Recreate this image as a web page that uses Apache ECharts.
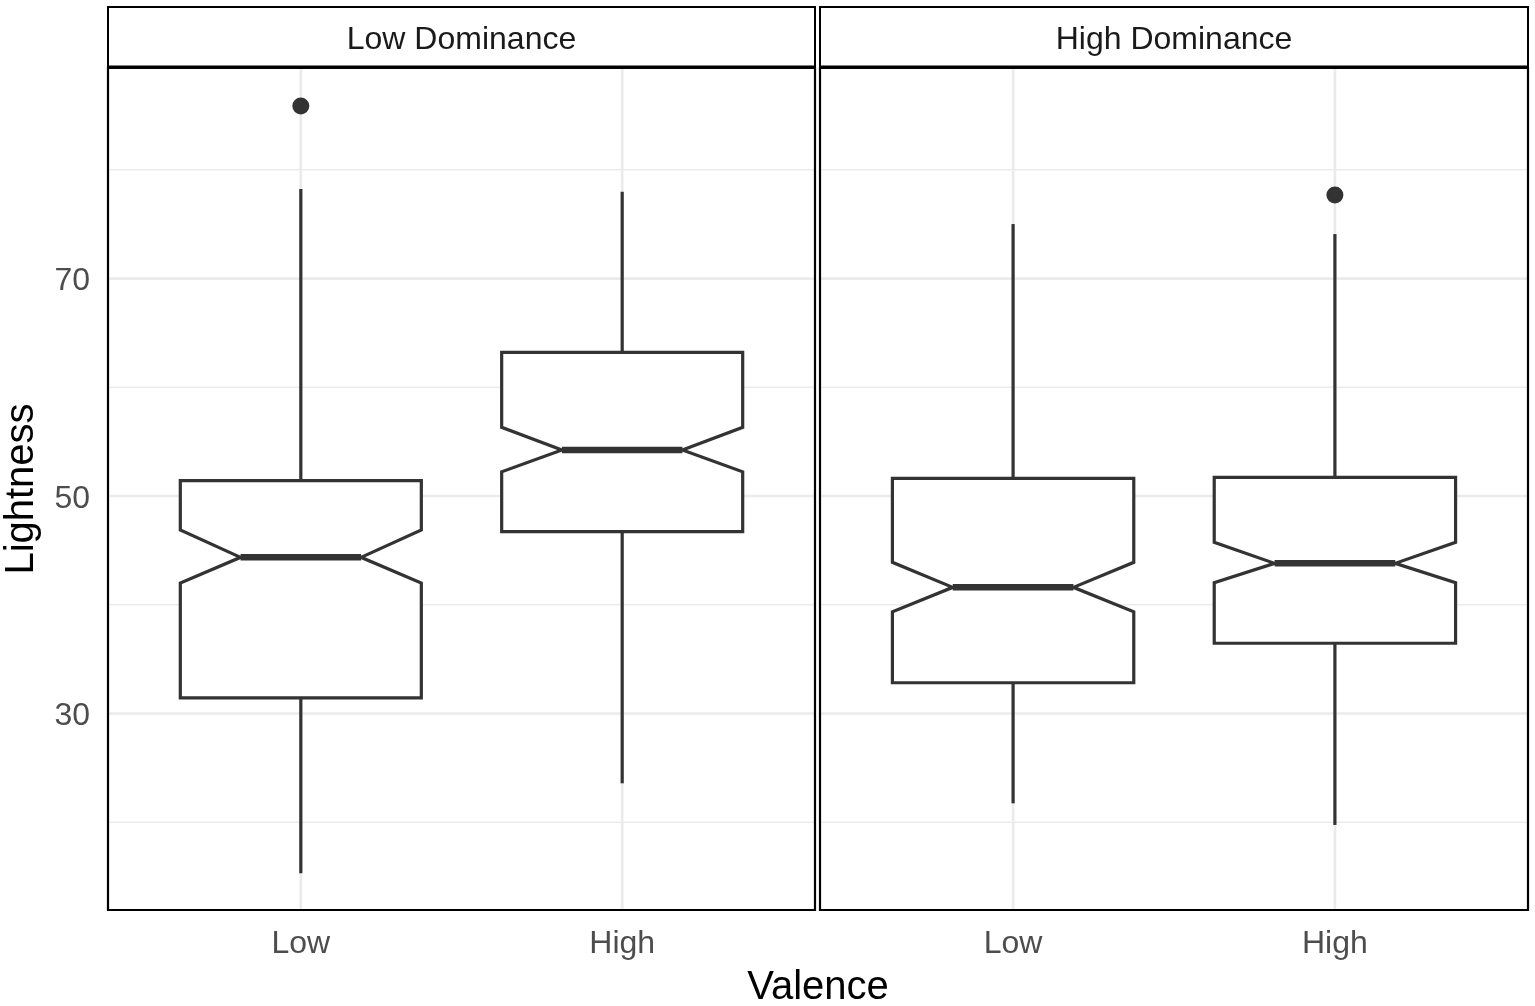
<!DOCTYPE html>
<html><head><meta charset="utf-8">
<script src="https://cdn.jsdelivr.net/npm/echarts@6/dist/echarts.min.js"></script>
<style>html,body{margin:0;padding:0;background:#fff}#c{width:1535px;height:1006px}</style>
</head><body><div id="c"></div>
<script>
// ---- data (per panel, per valence category) ----
const panels = ['Low Dominance', 'High Dominance'];
const valence = ['Low', 'High'];
const whiskerLow  = [[15.31, 23.58], [21.74, 19.75]];
const q1          = [[31.43, 46.72], [32.83, 36.46]];
const notchLow    = [[42.00, 52.23], [39.36, 42.03]];
const median      = [[44.36, 54.23], [41.60, 43.81]];
const notchHigh   = [[46.87, 56.32], [43.90, 45.74]];
const q3          = [[51.41, 63.21], [51.63, 51.72]];
const whiskerHigh = [[78.23, 77.98], [75.01, 74.09]];
const outliers    = [[[0, 85.86]], [[1, 77.68]]]; // [valence index, value]
const yMajorTicks = [30, 50, 70];
const yMinorTicks = [20, 40, 60, 80];
const yRange = [11.93, 89.36];
const xRange = [0.4, 2.6];

// ---- layout / style ----
const FONT = "'Liberation Sans', Arial, sans-serif";
const layout = [{left: 108, width: 707}, {left: 820, width: 708}];
const TOP = 68, HEIGHT = 842;
const INK = '#333333';
const GRIDC = '#ebebeb';

const chart = echarts.init(document.getElementById('c'));

function hLine(width) {
  return function (params, api) {
    const cs = params.coordSys;
    const y = api.coord([api.value(0), api.value(1)])[1];
    return {type: 'line', shape: {x1: cs.x, y1: y, x2: cs.x + cs.width, y2: y},
      style: {stroke: GRIDC, lineWidth: width}};
  };
}
function vLine(width) {
  return function (params, api) {
    const cs = params.coordSys;
    const x = api.coord([api.value(0), api.value(1)])[0];
    return {type: 'line', shape: {x1: x, y1: cs.y, x2: x, y2: cs.y + cs.height},
      style: {stroke: GRIDC, lineWidth: width}};
  };
}
function renderBox(params, api) {
  const x = api.value(0);
  const c = v => api.coord([x, v]);
  const cx = c(api.value(4))[0];
  const yLo = c(api.value(1))[1], yQ1 = c(api.value(2))[1], yNL = c(api.value(3))[1];
  const yMed = c(api.value(4))[1], yNH = c(api.value(5))[1], yQ3 = c(api.value(6))[1];
  const yHi = c(api.value(7))[1];
  const half = api.size([0.75, 0])[0] / 2;
  const inset = half * 0.5;
  const xl = cx - half, xr = cx + half;
  const s = {stroke: INK, lineWidth: 3.2, fill: null};
  return {type: 'group', children: [
    {type: 'line', shape: {x1: cx, y1: yQ3, x2: cx, y2: yHi}, style: s},
    {type: 'line', shape: {x1: cx, y1: yQ1, x2: cx, y2: yLo}, style: s},
    {type: 'polygon', shape: {points: [
      [xl, yQ3], [xr, yQ3], [xr, yNH], [xr - inset, yMed], [xr, yNL], [xr, yQ1],
      [xl, yQ1], [xl, yNL], [xl + inset, yMed], [xl, yNH]]},
      style: {fill: '#ffffff', stroke: INK, lineWidth: 3.2, lineJoin: 'miter'}},
    {type: 'line', shape: {x1: xl + inset, y1: yMed, x2: xr - inset, y2: yMed},
      style: {stroke: INK, lineWidth: 6.5}}
  ]};
}

const series = [];
panels.forEach((p, i) => {
  const base = {xAxisIndex: i, yAxisIndex: i, silent: true, animation: false};
  series.push(Object.assign({type: 'custom', z: 1, renderItem: hLine(1.4),
    data: yMinorTicks.map(v => [xRange[0], v])}, base));
  series.push(Object.assign({type: 'custom', z: 1, renderItem: hLine(2.7),
    data: yMajorTicks.map(v => [xRange[0], v])}, base));
  series.push(Object.assign({type: 'custom', z: 1, renderItem: vLine(2.7),
    data: valence.map((v, k) => [k + 1, yRange[0]])}, base));
  series.push(Object.assign({type: 'custom', z: 2, renderItem: renderBox,
    encode: {x: 0, y: [1, 2, 3, 4, 5, 6, 7]},
    data: valence.map((v, k) => [k + 1, whiskerLow[i][k], q1[i][k], notchLow[i][k],
      median[i][k], notchHigh[i][k], q3[i][k], whiskerHigh[i][k]])}, base));
  series.push(Object.assign({type: 'scatter', z: 3, symbolSize: 17,
    itemStyle: {color: INK, opacity: 1},
    data: outliers[i].map(o => [o[0] + 1, o[1]])}, base));
});

const graphic = [];
layout.forEach((l, i) => {
  graphic.push({type: 'rect', z: 100, shape: {x: l.left, y: 7, width: l.width, height: 59.5},
    style: {fill: '#ffffff', stroke: '#000000', lineWidth: 2}});
  graphic.push({type: 'text', z: 101, x: l.left + l.width / 2, y: 40,
    style: {text: panels[i], fontSize: 32, fontFamily: FONT, fill: '#1a1a1a',
      align: 'center', verticalAlign: 'middle'}});
  graphic.push({type: 'rect', z: 100, shape: {x: l.left, y: TOP, width: l.width, height: HEIGHT},
    style: {fill: null, stroke: '#000000', lineWidth: 2.2}});
});
graphic.push({type: 'text', z: 101, x: 22, y: TOP + HEIGHT / 2, rotation: Math.PI / 2,
  style: {text: 'Lightness', fontSize: 40, fontFamily: FONT, fill: '#000000',
    align: 'center', verticalAlign: 'middle'}});
graphic.push({type: 'text', z: 101, x: (layout[0].left + layout[1].left + layout[1].width) / 2, y: 988,
  style: {text: 'Valence', fontSize: 40, fontFamily: FONT, fill: '#000000',
    align: 'center', verticalAlign: 'middle'}});

chart.setOption({
  animation: false,
  backgroundColor: '#ffffff',
  grid: layout.map(l => ({left: l.left, top: TOP, width: l.width, height: HEIGHT, show: false})),
  xAxis: layout.map((l, i) => ({type: 'value', gridIndex: i, min: xRange[0], max: xRange[1],
    axisLine: {show: false}, axisTick: {show: false}, splitLine: {show: false},
    axisLabel: {customValues: [1, 2], formatter: v => valence[Math.round(v) - 1] || '',
      fontSize: 32, color: '#4d4d4d', fontFamily: FONT, margin: 18}})),
  yAxis: layout.map((l, i) => ({type: 'value', gridIndex: i, min: yRange[0], max: yRange[1],
    axisLine: {show: false}, axisTick: {show: false}, splitLine: {show: false},
    axisLabel: {show: i === 0, customValues: yMajorTicks, margin: 18,
      formatter: v => '{t|' + v + '}',
      rich: {t: {fontSize: 32, color: '#4d4d4d', fontFamily: FONT, padding: [6, 0, 0, 0]}}}})),
  series: series,
  graphic: graphic
});
</script>
</body></html>
